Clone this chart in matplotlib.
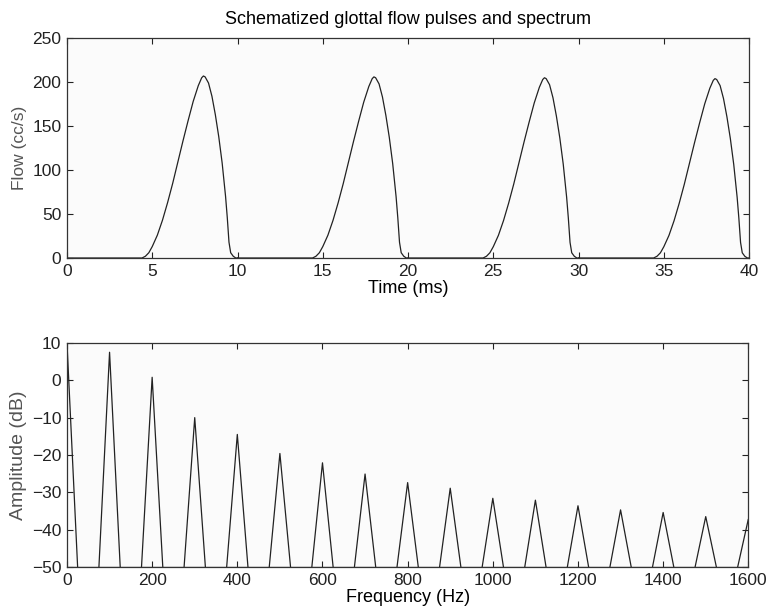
import matplotlib
matplotlib.use("Agg")
import matplotlib.pyplot as plt

plt.rcParams['font.family'] = ['Liberation Sans', 'DejaVu Sans']

# 聲門氣流脈衝 (一個週期內的形狀, 讀自原圖, 峰值 207)
pulse_t = [0, 4.4, 4.6, 4.8, 5.0, 5.3, 5.6, 5.9, 6.2, 6.5, 6.8, 7.1, 7.4, 7.7, 7.9,
           8.0, 8.1, 8.3, 8.5, 8.7, 8.9, 9.1, 9.3, 9.4, 9.5, 9.6, 9.75, 9.9, 10]
pulse_flow = [0, 0, 2, 6, 13, 26, 43, 63, 85, 109, 133, 156, 178, 196, 205,
              207, 206, 199, 184, 163, 138, 108, 70, 46, 18, 6, 2, 0, 0]
pulse_start = [0, 10, 20, 30]
pulse_peak = [207, 206, 205, 204]

# 頻譜: 諧波頻率與峰值 (dB)
harm_freq = [0, 100, 200, 300, 400, 500, 600, 700, 800, 900, 1000, 1100, 1200,
             1300, 1400, 1500, 1600]
harm_db = [10, 7.5, 0.8, -10, -14.5, -19.6, -22.1, -25.1, -27.4, -28.9, -31.6,
           -32.1, -33.6, -34.7, -35.4, -36.5, -37.2]
floor_db = -50
half_w = 25


def style(ax):
    ax.tick_params(direction='in', top=True, right=True, length=4,
                   labelsize=12.5, pad=4, colors='#222222')
    for s in ax.spines.values():
        s.set_linewidth(0.9)
        s.set_color('#333333')
    ax.set_facecolor('#fbfbfb')


fig = plt.figure(figsize=(7.69, 6.14), dpi=100)

# 上: 氣流
ax1 = fig.add_axes([0.0871, 0.5798, 0.887, 0.358])
for st, pk in zip(pulse_start, pulse_peak):
    t = [st + v for v in pulse_t]
    f = [v * pk / 207 for v in pulse_flow]
    ax1.plot(t, f, color='#222222', lw=0.9)
ax1.set_xlim(0, 40)
ax1.set_ylim(0, 250)
ax1.set_xticks(range(0, 41, 5))
ax1.set_yticks(range(0, 251, 50))
style(ax1)
ax1.set_title("Schematized glottal flow pulses and spectrum", fontsize=13, pad=10)
ax1.set_xlabel("Time (ms)", fontsize=13, labelpad=1)
ax1.set_ylabel("Flow (cc/s)", fontsize=12.5, color='#555555')
ax1.yaxis.set_label_coords(-0.058, 0.5)

# 下: 頻譜
ax2 = fig.add_axes([0.0871, 0.0765, 0.886, 0.365])
for fr, db in zip(harm_freq, harm_db):
    x = [fr - half_w, fr, fr + half_w]
    y = [floor_db, db, floor_db]
    ax2.plot(x, y, color='#222222', lw=0.9)
ax2.plot([0, 1600], [floor_db, floor_db], color='#222222', lw=0.9)
ax2.set_xlim(0, 1600)
ax2.set_ylim(-50, 10)
ax2.set_xticks(range(0, 1601, 200))
ax2.set_yticks(range(-50, 11, 10))
style(ax2)
ax2.set_xlabel("Frequency (Hz)", fontsize=13, labelpad=1)
ax2.set_ylabel("Amplitude (dB)", fontsize=14, color='#555555')
ax2.yaxis.set_label_coords(-0.058, 0.5)

fig.savefig("out.png", dpi=100)
